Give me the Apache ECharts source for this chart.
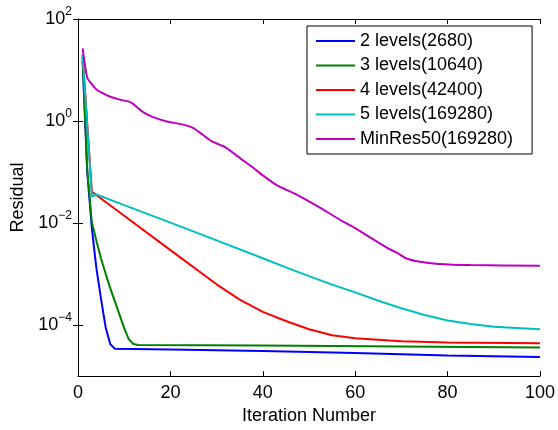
<!DOCTYPE html>
<html>
<head>
<meta charset="utf-8">
<script src="https://cdn.jsdelivr.net/npm/echarts@6/dist/echarts.min.js"></script>
<style>html,body{margin:0;padding:0;background:#fff}#c{width:558px;height:430px}</style>
</head>
<body>
<div id="c"></div>
<script>
// ---- data ----
const seriesNames = ['2 levels(2680)', '3 levels(10640)', '4 levels(42400)', '5 levels(169280)', 'MinRes50(169280)'];

const it2  = [1, 2, 3, 4, 5, 6, 7, 8, 20, 40, 60, 80, 100];
const res2 = [15, 0.1, 0.0079, 1.26e-3, 3.2e-4, 8.9e-5, 4.2e-5, 3.43e-5, 3.31e-5, 3.09e-5, 2.85e-5, 2.54e-5, 2.37e-5];

const it3  = [1, 2, 3, 4, 5, 6, 7, 8, 9, 10, 11, 12, 13, 40, 70, 100];
const res3 = [18, 0.112, 0.0102, 4.47e-3, 2.0e-3, 1.0e-3, 5.25e-4, 2.88e-4, 1.58e-4, 8.7e-5, 5.25e-5, 4.27e-5, 4.07e-5, 3.98e-5, 3.8e-5, 3.63e-5];

const it4  = [1, 2, 3, 10, 20, 30, 35, 40, 45, 50, 55, 60, 70, 80, 100];
const res4 = [20, 0.89, 0.0412, 0.0139, 2.95e-3, 6.3e-4, 3.16e-4, 1.82e-4, 1.2e-4, 8.3e-5, 6.3e-5, 5.5e-5, 4.8e-5, 4.57e-5, 4.4e-5];

const it5  = [1, 2, 3, 4, 10, 20, 30, 40, 45, 50, 55, 60, 65, 70, 75, 80, 85, 90, 100];
const res5 = [20, 0.79, 0.0331, 0.0363, 0.0225, 0.0102, 4.57e-3, 2.04e-3, 1.35e-3, 9.1e-4, 6.2e-4, 4.37e-4, 3.0e-4, 2.14e-4, 1.58e-4, 1.23e-4, 1.05e-4, 9.3e-5, 8.3e-5];

const itM  = [1, 2, 3, 4, 5, 7, 9, 11, 12, 14, 16, 19, 23, 25, 27, 29, 32, 35, 38, 40, 43, 47, 52, 57, 60, 63, 67, 69, 71, 74, 78, 85, 100];
const resM = [26.6, 7.08, 5.25, 4.17, 3.63, 2.99, 2.63, 2.40, 2.14, 1.51, 1.22, 0.989, 0.841, 0.724, 0.537, 0.398, 0.302, 0.19, 0.12, 0.0861, 0.0553, 0.0372, 0.0209, 0.0112, 7.94e-3, 5.37e-3, 3.24e-3, 2.63e-3, 2.04e-3, 1.74e-3, 1.58e-3, 1.5e-3, 1.45e-3];

const xTicks = [0, 20, 40, 60, 80, 100];
const yTicks = [1e-4, 1e-2, 1, 1e2];

const colors = ['#0000ff', '#008000', '#ff0000', '#00bfbf', '#bf00bf'];
const smoothing = [false, false, false, false, 0.2];
// ---------------------------------------

const FONT = 'Liberation Sans, Arial, Helvetica, sans-serif';
const zip = (a, b) => a.map((v, i) => [v, b[i]]);
const allData = [zip(it2, res2), zip(it3, res3), zip(it4, res4), zip(it5, res5), zip(itM, resM)];

function expLabel(v) {
  const e = Math.round(Math.log10(v));
  const s = e < 0 ? '\u2212' + (-e) : String(e);
  return '{b|10}{s|' + s + '}';
}

const chart = echarts.init(document.getElementById('c'), null, {renderer: 'canvas'});
const axisLine = {show: true, lineStyle: {color: '#000', width: 1}};
chart.setOption({
  animation: false,
  backgroundColor: '#fff',
  color: colors,
  grid: {left: 78, right: 18, top: 19, bottom: 46, containLabel: false},
  legend: {
    orient: 'vertical',
    left: 307, top: 26,
    padding: [6, 19, 6, 9],
    itemWidth: 39, itemHeight: 2, itemGap: 6.5,
    borderColor: '#000', borderWidth: 1, backgroundColor: '#fff',
    textStyle: {fontFamily: FONT, fontSize: 18, color: '#000', lineHeight: 17},
    data: seriesNames.map(n => ({name: n, icon: 'rect'}))
  },
  xAxis: [{
    type: 'value', min: 0, max: 100, interval: 20,
    name: 'Iteration Number', nameLocation: 'middle', nameGap: 29,
    nameTextStyle: {fontFamily: FONT, fontSize: 18, color: '#000'},
    axisLine: axisLine,
    axisTick: {show: true, inside: true, length: 5, lineStyle: {color: '#000'}, customValues: xTicks},
    axisLabel: {fontFamily: FONT, fontSize: 18, color: '#000', margin: 8, customValues: xTicks},
    splitLine: {show: false}
  }, {
    type: 'value', min: 0, max: 100, interval: 20, position: 'top',
    axisLine: axisLine,
    axisTick: {show: true, inside: true, length: 5, lineStyle: {color: '#000'}},
    axisLabel: {show: false}, splitLine: {show: false}
  }],
  yAxis: [{
    type: 'log', logBase: 10, min: 1e-5, max: 1e2,
    name: 'Residual', nameLocation: 'middle', nameGap: 50,
    nameTextStyle: {fontFamily: FONT, fontSize: 18, color: '#000'},
    axisLine: axisLine,
    axisTick: {show: true, inside: true, length: 5, lineStyle: {color: '#000'}, customValues: yTicks},
    axisLabel: {
      customValues: yTicks, margin: 6, formatter: expLabel,
      rich: {
        b: {fontFamily: FONT, fontSize: 18, color: '#000'},
        s: {fontFamily: FONT, fontSize: 12, color: '#000', padding: [0, 0, 14, 0]}
      }
    },
    splitLine: {show: false}
  }, {
    type: 'log', logBase: 10, min: 1e-5, max: 1e2, position: 'right',
    axisLine: axisLine,
    axisTick: {show: true, inside: true, length: 5, lineStyle: {color: '#000'}, customValues: yTicks},
    axisLabel: {show: false}, splitLine: {show: false}
  }],
  series: allData.map((d, i) => ({
    name: seriesNames[i], type: 'line', data: d,
    xAxisIndex: 0, yAxisIndex: 0,
    symbol: 'none', smooth: smoothing[i], clip: true,
    lineStyle: {width: 2, color: colors[i]},
    itemStyle: {color: colors[i]}
  }))
});
</script>
</body>
</html>
